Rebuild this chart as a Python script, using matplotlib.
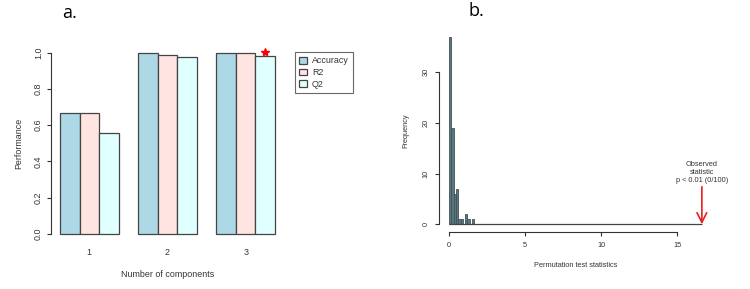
import matplotlib
matplotlib.use("Agg")
import matplotlib.pyplot as plt
import numpy as np

plt.rcParams['font.family'] = ['Liberation Sans', 'DejaVu Sans']

# panel a: performance by number of components
components = ['1', '2', '3']
series_names = ['Accuracy', 'R2', 'Q2']
accuracy = [0.667, 1.0, 1.0]
r2 = [0.665, 0.988, 0.996]
q2 = [0.558, 0.977, 0.982]
series_colors = ['#add8e6', '#ffe4e1', '#e0ffff']

# panel b: histogram of permutation test statistics
bin_edges = [0.0, 0.15, 0.3, 0.45, 0.6, 0.75, 0.9, 1.05, 1.2, 1.35, 1.5, 1.65]
bin_counts = [37, 19, 6, 7, 1, 1, 0, 2, 1, 0, 1]
observed_stat = 16.6
p_text = 'p < 0.01 (0/100)'

axis_col = '#333333'
fs_a = 6.4
fs_b = 5.3

fig = plt.figure(figsize=(7.5, 2.89), dpi=100)

# ---------- panel a ----------
ax1 = fig.add_axes([0.0685, 0.165, 0.3096, 0.678])
values = [accuracy, r2, q2]
for j, vals in enumerate(values):
    lefts = [1 + 4 * i + j for i in range(len(components))]
    ax1.bar(lefts, vals, width=1, align='edge', color=series_colors[j],
            edgecolor='#444444', linewidth=0.9, label=series_names[j])

# significance star above the last Q2 bar
ax1.plot(1 + 4 * 2 + 2 + 0.5, q2[2] + 0.02, marker='*', color='red',
         markersize=6, clip_on=False, linestyle='none')

ax1.set_xlim(1 - 0.44, 12 + 0.44)
ax1.set_ylim(-0.04, 1.04)
ax1.set_xticks([2.5 + 4 * i for i in range(len(components))])
ax1.set_xticklabels(components)
ax1.set_yticks([0.0, 0.2, 0.4, 0.6, 0.8, 1.0])
ax1.set_yticklabels(['0.0', '0.2', '0.4', '0.6', '0.8', '1.0'], rotation=90, va='center')
for s in ['top', 'right', 'bottom']:
    ax1.spines[s].set_visible(False)
ax1.spines['left'].set_bounds(0, 1)
ax1.spines['left'].set_color(axis_col)
ax1.tick_params(axis='y', length=3, width=0.8, color=axis_col, labelsize=fs_a,
                labelcolor=axis_col, pad=3)
ax1.tick_params(axis='x', length=0, labelsize=fs_a, labelcolor=axis_col, pad=5)
ax1.set_ylabel('Performance', fontsize=fs_a, color=axis_col, labelpad=8)
ax1.set_xlabel('Number of components', fontsize=fs_a, color=axis_col, labelpad=9)

leg = ax1.legend(loc='upper left', bbox_to_anchor=(1.049, 0.966), borderaxespad=0,
                 fontsize=fs_a, frameon=True, fancybox=False, handlelength=0.8,
                 handleheight=0.8, handletextpad=0.6, labelspacing=0.3,
                 borderpad=0.5)
leg.get_frame().set_edgecolor('#444444')
leg.get_frame().set_linewidth(0.8)
for t in leg.get_texts():
    t.set_color(axis_col)

fig.text(70 / 750, 1 - 13 / 289, 'a.', fontsize=13, ha='center', va='center',
         family=['Open Sans', 'DejaVu Sans'])

# ---------- panel b ----------
ax2 = fig.add_axes([0.5853, 0.198, 0.364, 0.701])
widths = np.diff(bin_edges)
ax2.bar(bin_edges[:-1], bin_counts, width=widths, align='edge',
        color='#58777e', edgecolor='#3f5257', linewidth=0.6)
# zero-height bins up to the observed statistic
ax2.hlines(0, 0, observed_stat, color='#444444', linewidth=0.9)

ax2.annotate('', xy=(observed_stat, 0), xytext=(observed_stat, 7.4),
             arrowprops=dict(arrowstyle='->,head_length=0.7,head_width=0.35',
                             color='#e8201e', lw=1.2, shrinkA=0, shrinkB=0))
ax2.text(observed_stat, 8.0, 'Observed\nstatistic\n' + p_text, ha='center',
         va='bottom', fontsize=fs_b, color=axis_col, linespacing=1.2)

ax2.set_xlim(-0.664, observed_stat + 0.664)
ax2.set_ylim(-1.48, 38.48)
ax2.set_xticks([0, 5, 10, 15])
ax2.set_yticks([0, 10, 20, 30])
ax2.set_yticklabels(['0', '10', '20', '30'], rotation=90, va='center')
for s in ['top', 'right']:
    ax2.spines[s].set_visible(False)
ax2.spines['left'].set_bounds(0, 30)
ax2.spines['bottom'].set_bounds(0, 15)
ax2.spines['left'].set_color(axis_col)
ax2.spines['bottom'].set_color(axis_col)
ax2.tick_params(length=3, width=0.8, color=axis_col, labelsize=fs_b,
                labelcolor=axis_col, pad=4)
ax2.set_ylabel('Frequency', fontsize=fs_b, color=axis_col, labelpad=9)
ax2.set_xlabel('Permutation test statistics', fontsize=fs_b, color=axis_col, labelpad=10)

fig.text(476 / 750, 1 - 11 / 289, 'b.', fontsize=13, ha='center', va='center',
         family=['Open Sans', 'DejaVu Sans'])

fig.savefig('out.png', dpi=100)
